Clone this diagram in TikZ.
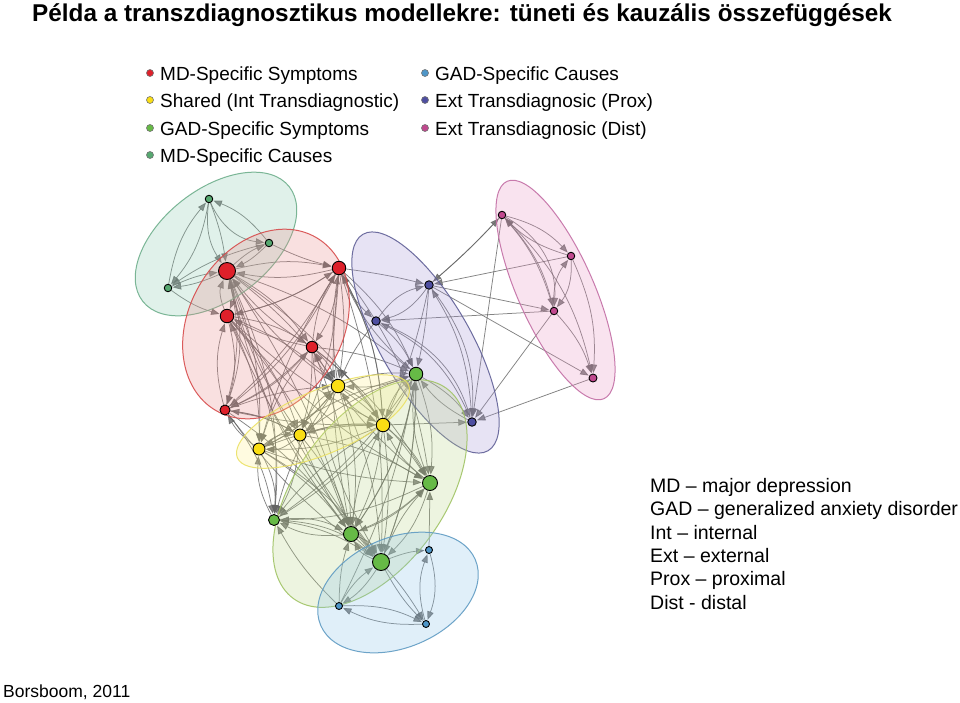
\documentclass[tikz,border=0pt]{standalone}
\usepackage{fontspec}
\setmainfont{Liberation Sans}
\usetikzlibrary{arrows.meta}
\pgfdeclarelayer{edgelayer}
\pgfdeclarelayer{elllayer}
\pgfsetlayers{edgelayer,elllayer,main}
\definecolor{egray}{RGB}{100,100,100}
\definecolor{cRed}{RGB}{222,32,42}
\definecolor{cYel}{RGB}{250,222,20}
\definecolor{cGrn}{RGB}{102,186,70}
\definecolor{cTeal}{RGB}{86,168,112}
\definecolor{cBlu}{RGB}{78,150,200}
\definecolor{cPrx}{RGB}{78,78,160}
\definecolor{cDst}{RGB}{192,72,142}
% ellipse fills / strokes
\definecolor{fTeal}{RGB}{135,203,175}\definecolor{sTeal}{RGB}{110,175,140}
\definecolor{fRed}{RGB}{235,135,135}\definecolor{sRed}{RGB}{215,75,75}
\definecolor{fPrx}{RGB}{163,147,215}\definecolor{sPrx}{RGB}{95,95,150}
\definecolor{fDst}{RGB}{235,147,195}\definecolor{sDst}{RGB}{195,110,165}
\definecolor{fYel}{RGB}{255,243,135}\definecolor{sYel}{RGB}{235,225,100}
\definecolor{fGrn}{RGB}{187,215,135}\definecolor{sGrn}{RGB}{160,195,100}
\definecolor{fBlu}{RGB}{135,195,235}\definecolor{sBlu}{RGB}{95,155,195}
\tikzset{
  nd/.style={circle, draw=black, line width=0.9pt, inner sep=0pt},
  ld/.style={circle, draw=black!55, line width=0.6pt, inner sep=0pt, minimum size=7pt},
  ed/.style={draw=egray, line width=0.75pt, opacity=0.8, -{Triangle[length=8.5pt,width=6.5pt]}, shorten >=0.5pt},
  ell/.style={line width=1pt, fill opacity=0.25, draw opacity=0.9},
  lt/.style={inner sep=0pt, anchor=base west, font=\fontsize{19}{22}\selectfont},
  rt/.style={inner sep=0pt, anchor=base west, font=\fontsize{19.5}{23}\selectfont},
}
\begin{document}
\begin{tikzpicture}[x=1pt,y=-1pt]
\begin{pgfonlayer}{edgelayer}
\fill[white] (0,0) rectangle (960,702);
\end{pgfonlayer}
\useasboundingbox (0,0) rectangle (960,702);

% title
\node[inner sep=0pt, anchor=base west, font=\fontsize{24.3}{28}\selectfont\bfseries] (title) at (32,21) {Példa a transzdiagnosztikus modellekre: tüneti és kauzális összefüggések};

% legend
\node[ld, fill=cRed] (l1) at (150,73) {};
\node[ld, fill=cYel] (l2) at (150,100) {};
\node[ld, fill=cGrn] (l3) at (150,128) {};
\node[ld, fill=cTeal] (l4) at (150,155) {};
\node[ld, fill=cBlu] (l5) at (425,73) {};
\node[ld, fill=cPrx] (l6) at (425,100) {};
\node[ld, fill=cDst] (l7) at (425,128) {};
\node[lt] (t1) at (160,80) {MD-Specific Symptoms};
\node[lt] (t2) at (160,107) {Shared (Int Transdiagnostic)};
\node[lt] (t3) at (160,135) {GAD-Specific Symptoms};
\node[lt] (t4) at (160,162) {MD-Specific Causes};
\node[lt] (t5) at (435,80) {GAD-Specific Causes};
\node[lt] (t6) at (435,107) {Ext Transdiagnosic (Prox)};
\node[lt] (t7) at (435,135) {Ext Transdiagnosic (Dist)};

% abbreviations
\node[rt] (a1) at (650,492) {MD – major depression};
\node[rt] (a2) at (650,515) {GAD – generalized anxiety disorder};
\node[rt] (a3) at (650,539) {Int – internal};
\node[rt] (a4) at (650,562) {Ext – external};
\node[rt] (a5) at (650,585) {Prox – proximal};
\node[rt] (a6) at (650,609) {Dist - distal};

\node[inner sep=0pt, anchor=base west, font=\fontsize{17.5}{20}\selectfont] (src) at (3,697) {Borsboom, 2011};

% network nodes
\node[nd, fill=cTeal, minimum size=7.5pt] (c1) at (209,199) {};
\node[nd, fill=cTeal, minimum size=7.5pt] (c2) at (269,243) {};
\node[nd, fill=cTeal, minimum size=7.5pt] (c3) at (168,288) {};
\node[nd, fill=cRed, minimum size=17pt] (r1) at (227,271) {};
\node[nd, fill=cRed, minimum size=13.5pt] (r2) at (339,268) {};
\node[nd, fill=cRed, minimum size=13.5pt] (r3) at (227,316) {};
\node[nd, fill=cRed, minimum size=11.5pt] (r4) at (312,347) {};
\node[nd, fill=cRed, minimum size=10pt] (r5) at (225,410) {};
\node[nd, fill=cYel, minimum size=13.5pt] (y1) at (338,386) {};
\node[nd, fill=cYel, minimum size=12pt] (y2) at (300,435) {};
\node[nd, fill=cYel, minimum size=12pt] (y3) at (259,449) {};
\node[nd, fill=cYel, minimum size=13.5pt] (y4) at (383,425) {};
\node[nd, fill=cGrn, minimum size=13.5pt] (g1) at (416,374) {};
\node[nd, fill=cGrn, minimum size=15pt] (g2) at (430,483) {};
\node[nd, fill=cGrn, minimum size=11pt] (g3) at (274,520) {};
\node[nd, fill=cGrn, minimum size=15pt] (g4) at (351,534) {};
\node[nd, fill=cGrn, minimum size=17pt] (g5) at (381,562) {};
\node[nd, fill=cBlu, minimum size=7pt] (b1) at (429,550) {};
\node[nd, fill=cBlu, minimum size=7pt] (b2) at (339,606) {};
\node[nd, fill=cBlu, minimum size=7pt] (b3) at (426,624) {};
\node[nd, fill=cPrx, minimum size=8.5pt] (p1) at (429,285) {};
\node[nd, fill=cPrx, minimum size=8.5pt] (p2) at (376,321) {};
\node[nd, fill=cPrx, minimum size=8.5pt] (p3) at (472,422) {};
\node[nd, fill=cDst, minimum size=7.5pt] (m1) at (502,215) {};
\node[nd, fill=cDst, minimum size=7.5pt] (m2) at (571,256) {};
\node[nd, fill=cDst, minimum size=7.5pt] (m3) at (554,311) {};
\node[nd, fill=cDst, minimum size=8pt] (m4) at (593,378) {};

% edges (below the ellipses)
\begin{pgfonlayer}{edgelayer}
\foreach \a/\b/\s in {
 c3/c1/15, c1/c3/15, c2/c1/-15, c1/c2/-30, c1/r1/6, c1/r1/-20, c2/r1/10, r1/c2/10, c3/r1/8, r1/c3/8, c2/c3/-10, c3/r3/-10, c2/r2/-6,
 r1/r2/12, r2/r1/12, r1/r3/22, r3/r1/22, r1/r4/12, r4/r1/10, r1/r5/18, r5/r1/-14, r2/r3/10, r3/r2/-10, r2/r4/14, r4/r2/12,
 r2/r5/12, r5/r2/-8, r3/r4/12, r4/r3/8, r3/r5/16, r5/r3/16, r4/r5/10, r5/r4/-12,
 r1/y1/8, r1/y2/-10, r1/y3/12, r1/y4/10, r2/y1/8, y1/r2/8, r2/y2/10, r2/y3/-8, r2/y4/12, r3/y1/10, r3/y2/12, r3/y3/14, r3/y4/-8,
 r4/y1/12, y1/r4/12, r4/y2/8, r4/y3/-10, r4/y4/10, r5/y1/8, r5/y2/10, y3/r5/12, r5/y4/-6, y2/r5/-10,
 r1/g1/10, r1/g4/8, r1/g5/-10, r1/g3/14, r2/g1/12, r2/g2/14, r2/g4/-8, r2/g5/10, r3/g3/18, r3/g4/10, r3/g2/-10,
 r4/g1/8, r4/g4/10, r4/g5/-12, r4/g2/10, r5/g3/14, r5/g4/10, r5/g5/-8,
 y1/y2/16, y2/y1/16, y1/y3/12, y3/y1/-12, y1/y4/16, y4/y1/16, y2/y3/22, y3/y2/22, y2/y4/10, y4/y2/-10, y3/y4/10, y4/y3/12,
 y1/g1/12, g1/y1/12, y1/g2/10, y1/g3/-10, y1/g4/12, y1/g5/10, y2/g1/8, y2/g2/10, y2/g3/12, y2/g4/12, y2/g5/-10,
 y3/g1/10, y3/g2/-8, y3/g3/16, g3/y3/16, y3/g4/10, y3/g5/12, y4/g1/16, y4/g2/12, g2/y4/12, y4/g3/-10, y4/g4/10, y4/g5/8, g4/y4/10,
 g1/g2/12, g2/g1/14, g1/g3/10, g1/g4/12, g4/g1/-12, g1/g5/10, g2/g3/12, g2/g4/12, g4/g2/-10, g2/g5/14, g5/g2/10,
 g3/g4/16, g4/g3/16, g3/g5/18, g5/g3/-12, g4/g5/22, g5/g4/22, g3/g1/-14, g5/g1/-10,
 g1/r2/12, g4/r1/12, g2/r4/10, g5/r3/8, y4/r2/-12, y1/r1/10,
 p1/p2/20, p2/p1/20, p1/g1/4, p2/g1/12, p1/p3/20, p3/p1/-14, p2/p3/25, p3/p2/-20, r2/p1/3, r2/p2/-12, p2/y1/-8, g1/p3/12, p3/g1/12, y4/p3/0, p1/y4/6,
 m1/m2/16, m2/m1/14, m1/m3/14, m3/m1/-12, m1/m3/32, m1/m4/16, m2/m3/20, m3/m2/20, m2/m4/14, m3/m4/12,
 m1/p1/3, p1/m1/-3, m2/p1/0, p1/m3/0, m3/p2/0, p1/m4/0, m1/p3/0, m3/p3/0, m4/p3/0,
 g5/b1/8, g5/b2/12, b2/g5/12, g5/b3/-8, b1/b3/18, b3/b1/18, b2/b3/14, b3/b2/14, b1/g2/0, b2/g4/8, b2/g3/8, b2/g1/-8, g4/b3/8}
 \draw[ed] (\a) to[bend left=\s] (\b);
\end{pgfonlayer}

% ellipses (semi-transparent, over the edges, under the nodes)
\begin{pgfonlayer}{elllayer}
\path[ell, draw=sTeal, fill=fTeal, shift={(216,244)}, rotate=38] (0,0) ellipse [x radius=93pt, y radius=55pt];
\path[ell, draw=sRed, fill=fRed, shift={(266,324)}, rotate=60] (0,0) ellipse [x radius=100pt, y radius=77pt];
\path[ell, draw=sPrx, fill=fPrx, shift={(425.5,342.5)}, rotate=-60] (0,0) ellipse [x radius=125pt, y radius=45pt];
\path[ell, draw=sDst, fill=fDst, shift={(555.5,290)}, rotate=-66] (0,0) ellipse [x radius=119pt, y radius=38pt];
\path[ell, draw=sGrn, fill=fGrn, shift={(370,493.5)}, rotate=54] (0,0) ellipse [x radius=130pt, y radius=74pt];
\path[ell, draw=sYel, fill=fYel, shift={(323,421.5)}, rotate=23] (0,0) ellipse [x radius=93pt, y radius=32pt];
\path[ell, draw=sBlu, fill=fBlu, shift={(398,592.5)}, rotate=23] (0,0) ellipse [x radius=84pt, y radius=55pt];
\end{pgfonlayer}
\end{tikzpicture}
\end{document}
